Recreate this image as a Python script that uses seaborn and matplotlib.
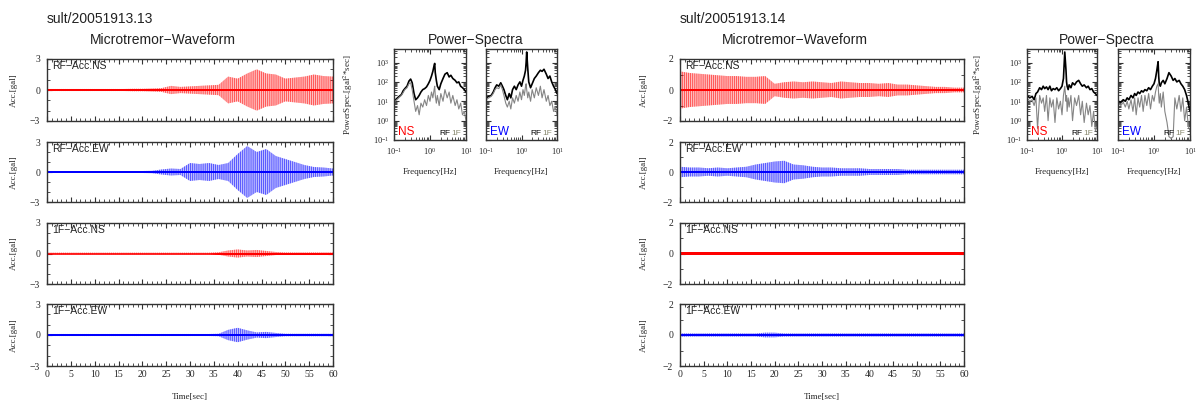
import numpy as np
import matplotlib
matplotlib.use('Agg')
import matplotlib.pyplot as plt
import seaborn as sns
from matplotlib.ticker import MultipleLocator, LogLocator, NullFormatter
from matplotlib.colors import to_rgba

sns.set_style('ticks')
plt.rcParams['font.family'] = ['Liberation Serif', 'DejaVu Serif']
plt.rcParams['mathtext.fontset'] = 'stix'
plt.rcParams['hatch.linewidth'] = 0.5
SANS = ['Liberation Sans', 'DejaVu Sans']

# --- waveform envelopes (gal), read every 2 s ---
t_sec = [0, 2, 4, 6, 8, 10, 12, 14, 16, 18, 20, 22, 24, 26, 28, 30,
         32, 34, 36, 38, 40, 42, 44, 46, 48, 50, 52, 54, 56, 58, 60]

# station .13
env13_rf_ns = [0.1, 0.1, 0.1, 0.1, 0.1, 0.1, 0.1, 0.1, 0.1, 0.12, 0.12, 0.15, 0.18, 0.4, 0.3, 0.35,
               0.4, 0.45, 0.5, 1.3, 1.1, 1.6, 2.0, 1.6, 1.5, 1.1, 1.2, 1.3, 1.5, 1.35, 1.3]
env13_rf_ew = [0.1, 0.1, 0.1, 0.1, 0.1, 0.1, 0.1, 0.1, 0.1, 0.1, 0.1, 0.12, 0.25, 0.35, 0.3, 0.9,
               0.8, 0.9, 0.7, 0.9, 1.8, 2.6, 2.0, 2.3, 1.6, 1.3, 1.0, 0.7, 0.5, 0.45, 0.35]
env13_tf_ns = [0.08, 0.08, 0.08, 0.08, 0.08, 0.08, 0.08, 0.08, 0.08, 0.08, 0.08, 0.08, 0.08, 0.08, 0.08, 0.08,
               0.08, 0.08, 0.12, 0.3, 0.4, 0.3, 0.35, 0.25, 0.15, 0.1, 0.1, 0.1, 0.1, 0.1, 0.1]
env13_tf_ew = [0.1, 0.1, 0.1, 0.1, 0.1, 0.1, 0.1, 0.1, 0.1, 0.1, 0.1, 0.1, 0.1, 0.1, 0.1, 0.1,
               0.1, 0.1, 0.12, 0.5, 0.7, 0.45, 0.25, 0.3, 0.2, 0.12, 0.12, 0.12, 0.12, 0.12, 0.12]

# station .14
env14_rf_ns = [1.2, 1.1, 1.05, 1.0, 0.95, 0.9, 0.9, 0.85, 0.85, 0.9, 0.4, 0.5, 0.55, 0.5, 0.55, 0.5,
               0.45, 0.55, 0.5, 0.45, 0.45, 0.4, 0.45, 0.35, 0.35, 0.3, 0.25, 0.2, 0.2, 0.15, 0.15]
env14_rf_ew = [0.35, 0.3, 0.3, 0.25, 0.3, 0.25, 0.3, 0.35, 0.5, 0.6, 0.7, 0.75, 0.5, 0.45, 0.35, 0.3,
               0.3, 0.25, 0.25, 0.25, 0.2, 0.2, 0.2, 0.2, 0.15, 0.15, 0.15, 0.15, 0.15, 0.15, 0.15]
env14_tf_ns = [0.08, 0.08, 0.08, 0.08, 0.08, 0.08, 0.08, 0.08, 0.08, 0.08, 0.08, 0.08, 0.08, 0.08, 0.08, 0.08,
               0.08, 0.08, 0.08, 0.08, 0.08, 0.08, 0.08, 0.08, 0.08, 0.08, 0.08, 0.08, 0.08, 0.08, 0.08]
env14_tf_ew = [0.1, 0.1, 0.1, 0.1, 0.1, 0.1, 0.1, 0.1, 0.1, 0.15, 0.15, 0.1, 0.1, 0.1, 0.1, 0.1,
               0.1, 0.1, 0.1, 0.1, 0.1, 0.1, 0.1, 0.1, 0.1, 0.1, 0.1, 0.1, 0.1, 0.1, 0.1]

# --- power spectra ---
freq = [0.10, 0.12, 0.14, 0.16, 0.18, 0.20, 0.23, 0.26, 0.29, 0.32, 0.36, 0.40, 0.45, 0.50,
        0.56, 0.63, 0.71, 0.80, 0.90, 1.00, 1.10, 1.20, 1.30, 1.35, 1.40, 1.50, 1.60, 1.80,
        2.00, 2.30, 2.60, 3.00, 3.40, 3.80, 4.30, 5.00, 5.60, 6.30, 7.10, 8.00, 9.00, 10.0]

ps13_ns_rf = [10, 14, 18, 22, 35, 45, 60, 110, 140, 90, 25, 12, 15, 20,
              30, 40, 45, 55, 80, 120, 200, 350, 700, 900, 300, 120, 60, 40,
              80, 150, 250, 300, 180, 220, 150, 120, 90, 100, 60, 50, 40, 30]
ps13_ns_1f = [9, 12, 16, 20, 28, 40, 50, 80, 90, 40, 10, 3, 6, 2,
              8, 5, 12, 6, 20, 10, 30, 15, 40, 60, 20, 8, 20, 6,
              25, 10, 40, 15, 30, 8, 20, 6, 12, 4, 8, 2, 3, 1]
ps13_ew_rf = [15, 18, 20, 30, 50, 70, 60, 90, 60, 40, 20, 12, 25, 15,
              40, 60, 40, 70, 100, 60, 120, 200, 400, 1000, 3500, 500, 100, 50,
              80, 150, 200, 300, 400, 350, 450, 250, 150, 200, 100, 60, 40, 25]
ps13_ew_1f = [12, 15, 18, 25, 40, 50, 45, 70, 40, 20, 8, 5, 10, 4,
              15, 8, 20, 10, 30, 12, 40, 20, 60, 80, 40, 15, 30, 10,
              40, 15, 50, 20, 60, 15, 40, 10, 20, 6, 10, 3, 5, 2]
ps14_ns_rf = [20, 15, 18, 12, 25, 30, 50, 40, 60, 45, 55, 40, 60, 35,
              45, 40, 50, 35, 45, 60, 150, 3500, 400, 100, 60, 40, 70, 50,
              90, 70, 100, 120, 80, 60, 70, 50, 60, 40, 45, 30, 25, 20]
ps14_ns_1f = [15, 10, 12, 6, 15, 0.4, 20, 8, 15, 3, 20, 1, 15, 5,
              12, 0.8, 15, 4, 10, 2, 20, 60, 10, 20, 3, 15, 5, 20,
              1, 15, 6, 20, 2, 10, 0.8, 8, 2, 6, 0.5, 3, 0.3, 0.5]
ps14_ew_rf = [10, 9, 12, 10, 15, 12, 20, 15, 25, 20, 30, 25, 35, 30,
              40, 35, 50, 40, 60, 80, 150, 400, 1100, 200, 80, 60, 90, 120,
              80, 150, 300, 200, 120, 150, 100, 120, 80, 60, 40, 20, 8, 3]
ps14_ew_1f = [8, 6, 9, 5, 10, 4, 12, 3, 15, 2, 15, 5, 20, 3,
              20, 6, 25, 4, 20, 10, 30, 60, 80, 20, 8, 25, 5, 30,
              3, 0.8, 0.15, 0.12, 0.15, 15, 4, 20, 3, 15, 1, 5, 0.5, 0.3]

W, H = 1198, 401
fig = plt.figure(figsize=(W / 100, H / 100), dpi=100)


def px_axes(x0, x1, y0, y1):
    return fig.add_axes([x0 / W, 1 - y1 / H, (x1 - x0) / W, (y1 - y0) / H])


def style(ax):
    for s in ax.spines.values():
        s.set_linewidth(1.0)
        s.set_color('#333333')
    ax.tick_params(which='both', direction='in', top=True, right=True,
                   labelsize=7, color='#333333')
    ax.tick_params(which='major', length=3.5)
    ax.tick_params(which='minor', length=2)


def waveform(ax, env, color, lim, label, last, ylab_x):
    env = np.array(env)
    core = np.minimum(env, 0.1 * lim / 3)
    ax.fill_between(t_sec, -env, env, facecolor=to_rgba(color, 0.25),
                    edgecolor=to_rgba(color, 0.75), hatch='||||||||', lw=0)
    ax.fill_between(t_sec, -core, core, color=color, lw=0)
    ax.set_xlim(0, 60)
    ax.set_ylim(-lim, lim)
    ax.set_yticks([-lim, 0, lim])
    ax.xaxis.set_major_locator(MultipleLocator(5))
    ax.xaxis.set_minor_locator(MultipleLocator(1))
    ax.yaxis.set_minor_locator(MultipleLocator(1))
    style(ax)
    ax.tick_params(axis='y', pad=5)
    ax.tick_params(axis='x', pad=3)
    ax.set_ylabel('Acc.[gal]', fontsize=6.5)
    ax.yaxis.set_label_coords(ylab_x, 0.5)
    ax.text(0.018, 0.96, label, transform=ax.transAxes, ha='left', va='top',
            fontsize=7.5, family=SANS, color='#222222')
    if last:
        ax.set_xlabel('Time[sec]', fontsize=6.5)
        ax.xaxis.set_label_coords(0.5, -0.44)
    else:
        ax.set_xticklabels([])


def spectrum(ax, rf, f1, comp, ccol, ylab):
    sns.lineplot(x=freq, y=rf, ax=ax, color='black', lw=1.2)
    sns.lineplot(x=freq, y=f1, ax=ax, color='#858585', lw=0.8)
    ax.set_xscale('log')
    ax.set_yscale('log')
    ax.set_xlim(0.1, 10)
    ax.set_ylim(0.1, 5000)
    ax.set_xticks([0.1, 1, 10])
    ax.set_yticks([0.1, 1, 10, 100, 1000])
    ax.xaxis.set_minor_locator(LogLocator(base=10, subs=np.arange(2, 10)))
    ax.yaxis.set_minor_locator(LogLocator(base=10, subs=np.arange(2, 10)))
    ax.xaxis.set_minor_formatter(NullFormatter())
    ax.yaxis.set_minor_formatter(NullFormatter())
    style(ax)
    ax.tick_params(labelsize=6)
    ax.tick_params(axis='x', pad=4)
    ax.set_xlabel('Frequency[Hz]', fontsize=6.5)
    ax.xaxis.set_label_coords(0.5, -0.31)
    if ylab is not None:
        ax.set_ylabel('PowerSpec.[gal$^2$*sec]', fontsize=6.5)
        ax.yaxis.set_label_coords(ylab, 0.5)
    else:
        ax.set_yticklabels([])
    ax.text(0.06, 0.02, comp, transform=ax.transAxes, ha='left', va='bottom',
            fontsize=8.5, family=SANS, color=ccol)
    ax.text(0.63, 0.03, 'RF', transform=ax.transAxes, ha='left', va='bottom',
            fontsize=6, family=SANS, color='black')
    ax.text(0.8, 0.03, '1F', transform=ax.transAxes, ha='left', va='bottom',
            fontsize=6, family=SANS, color='#8a8a70')


rows = [(59, 121), (142, 202), (223, 284), (304, 366)]
labels = ['RF\u2212Acc.NS', 'RF\u2212Acc.EW', '1F\u2212Acc.NS', '1F\u2212Acc.EW']
colors = ['#ff0000', '#0000ff', '#ff0000', '#0000ff']

blocks = [
    dict(x0=47, x1=333, lim=3, ylx=-0.1, envs=[env13_rf_ns, env13_rf_ew, env13_tf_ns, env13_tf_ew],
         name='sult/20051913.13', wcx=163, scx=476,
         sp=[(394, 466), (486, 557)], spylx=-0.54,
         ps=[(ps13_ns_rf, ps13_ns_1f), (ps13_ew_rf, ps13_ew_1f)]),
    dict(x0=680, x1=964, lim=2, ylx=-0.112, envs=[env14_rf_ns, env14_rf_ew, env14_tf_ns, env14_tf_ew],
         name='sult/20051913.14', wcx=795, scx=1107,
         sp=[(1027, 1097), (1118, 1190)], spylx=-0.6,
         ps=[(ps14_ns_rf, ps14_ns_1f), (ps14_ew_rf, ps14_ew_1f)]),
]

for b in blocks:
    for i, (y0, y1) in enumerate(rows):
        ax = px_axes(b['x0'], b['x1'], y0, y1)
        waveform(ax, b['envs'][i], colors[i], b['lim'], labels[i], i == 3, b['ylx'])
    for j, (sx0, sx1) in enumerate(b['sp']):
        ax = px_axes(sx0, sx1, 49, 140)
        rf, f1 = b['ps'][j]
        spectrum(ax, rf, f1, ['NS', 'EW'][j], ['#ff0000', '#0000ff'][j],
                 b['spylx'] if j == 0 else None)
    fig.text(b['x0'] / W, 1 - 19 / H, b['name'], ha='left', va='center',
             fontsize=10, family=SANS, color='#222222')
    fig.text(b['wcx'] / W, 1 - 40 / H, 'Microtremor\u2212Waveform', ha='center', va='center',
             fontsize=10, family=SANS, color='#222222')
    fig.text(b['scx'] / W, 1 - 40 / H, 'Power\u2212Spectra', ha='center', va='center',
             fontsize=10, family=SANS, color='#222222')

fig.savefig('out.png', dpi=100)
